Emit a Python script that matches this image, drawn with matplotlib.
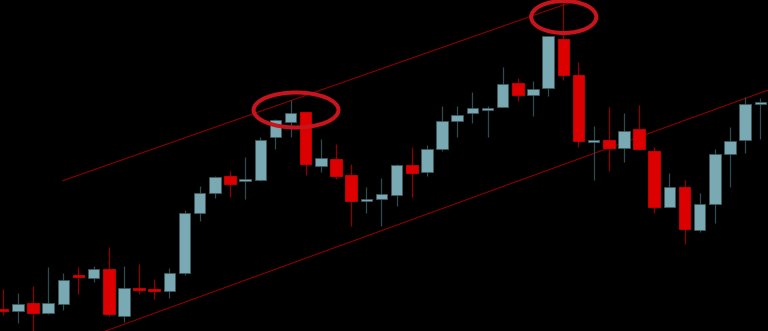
import matplotlib
matplotlib.use("Agg")
import matplotlib.pyplot as plt
from matplotlib.patches import Ellipse, Rectangle
import numpy as np

# price values (arbitrary price units, higher = up)
opens = [21, 20, 28, 18, 27, 55.5, 53, 62, 15, 42, 41, 40, 58, 118, 138, 155, 150, 151, 194, 209,
         219, 165, 172, 156, 130, 132, 136, 166, 159, 182, 210, 218, 221, 224, 248, 236, 243, 292,
         256, 189, 191, 183, 202, 180, 124, 144, 101, 127, 177, 191, 227]
closes = [20, 27, 18, 28, 51, 54, 62, 17, 43, 41, 40, 58, 118, 138, 154, 147, 151, 191, 211, 218,
          167, 173, 155, 130, 131.5, 137, 166, 158, 182, 210, 216, 223, 222.5, 247, 236, 242, 295,
          256, 190, 191, 183, 200, 182, 124, 144, 102, 127, 177, 190, 227, 228.5]
highs = [42, 38, 45, 64, 58, 64, 65, 84, 65, 67, 52, 63, 121, 145, 155, 160, 174, 194, 212, 231,
         219, 192, 187, 167, 144, 153, 167, 184, 186, 225, 225, 239, 225, 264, 253, 250, 295, 329,
         269, 205, 224, 218, 226, 184, 158, 151, 138, 182, 204, 234, 233]
lows = [16, 8, 0, 17, 21, 37, 49, 15, 9, 37, 32, 33, 56, 110, 133, 134, 132, 150, 182, 194,
        156, 159, 152, 105, 118, 105, 125, 134, 155, 180, 194, 208, 194, 224, 230, 215, 235, 251,
        184, 151, 160, 169, 181, 118, 124, 87, 99, 108, 144, 178, 192]

# channel trend-line anchors (index, price) and slope (price per candle)
upper_anchor = (3.96, 150.3)
upper_slope = 5.32
lower_anchor = (6.97, 1.0)
lower_slope = 5.51

# highlighted swing highs (index, price, width in candles, height in price)
marks_x = [19.36, 37.03]
marks_y = [221, 314]
marks_w = [5.6, 4.3]
marks_h = [35, 32]

UP = "#79a9b3"
UP_EDGE = "#3e5a60"
UP_WICK = "#2f4a50"
DN = "#dc0000"
DN_EDGE = "#d00000"
DN_WICK = "#900000"

fig = plt.figure(figsize=(7.68, 3.31), dpi=100, facecolor="black")
ax = fig.add_axes([0, 0, 1, 1])
ax.set_facecolor("black")
ax.set_xlim(-0.178, 50.51)
ax.set_ylim(0, 331)
ax.axis("off")

# channel lines
xs = np.array([upper_anchor[0], 60])
ax.plot(xs, upper_anchor[1] + upper_slope * (xs - upper_anchor[0]), color="#8a0000", lw=0.8, zorder=1)
xs = np.array([lower_anchor[0] - 2, 60])
ax.plot(xs, lower_anchor[1] + lower_slope * (xs - lower_anchor[0]), color="#8a0000", lw=0.8, zorder=1)

bw = 0.76
for i, (o, c, h, l) in enumerate(zip(opens, closes, highs, lows)):
    up = c >= o
    fc = UP if up else DN
    ec = UP_EDGE if up else DN_EDGE
    wc = UP_WICK if up else DN_WICK
    ax.plot([i, i], [l, h], color=wc, lw=0.9, zorder=2, solid_capstyle="butt")
    bottom = min(o, c)
    height = max(abs(c - o), 1.6)
    ax.add_patch(Rectangle((i - bw / 2, bottom), bw, height, facecolor=fc,
                           edgecolor=ec, lw=0.6, zorder=3))

for x, y, w, hh in zip(marks_x, marks_y, marks_w, marks_h):
    ax.add_patch(Ellipse((x, y), w, hh, fill=False, edgecolor="#c8141c", lw=2.9, zorder=4))

fig.savefig("out.png", dpi=100, facecolor="black")
